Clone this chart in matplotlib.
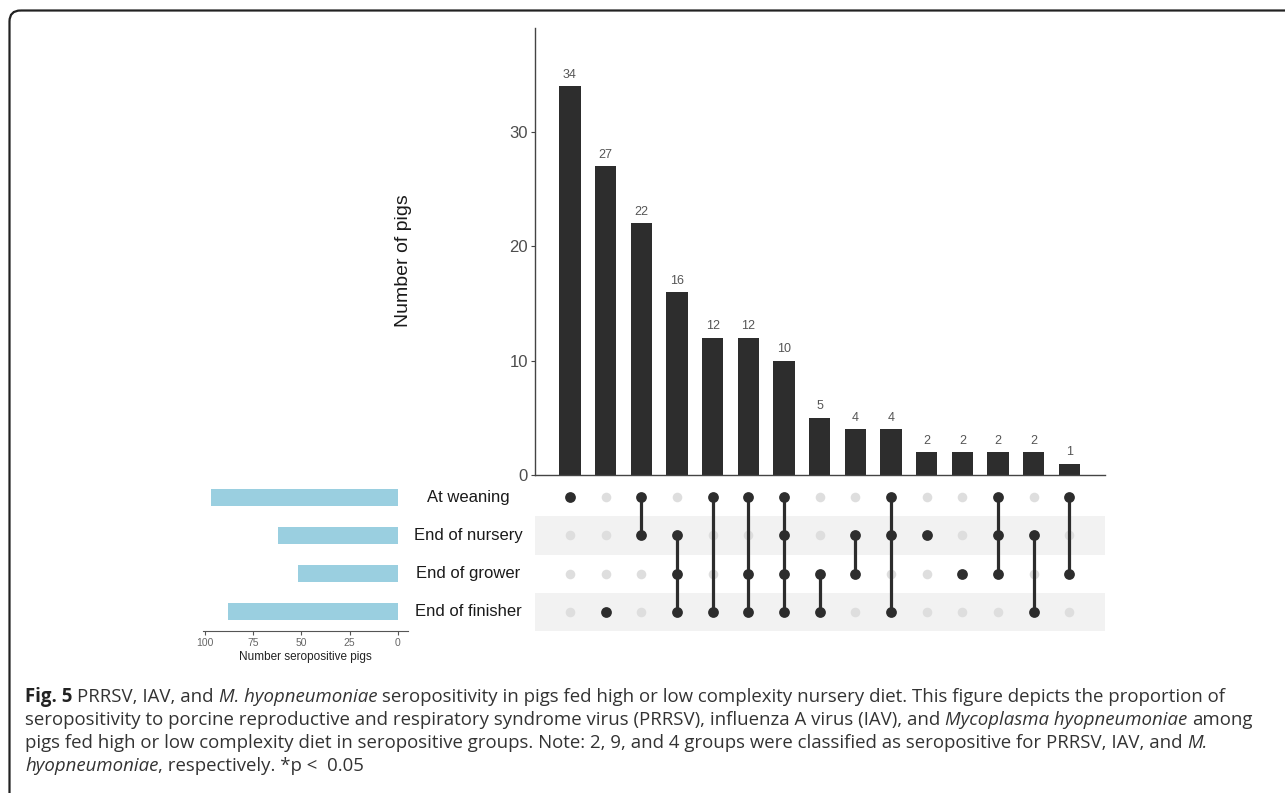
import matplotlib
matplotlib.use('Agg')
import matplotlib.pyplot as plt
import matplotlib.transforms as mtrans
from matplotlib.patches import FancyBboxPatch

plt.rcParams['font.family'] = ['Liberation Sans', 'DejaVu Sans']

# data
sets = ['At weaning', 'End of nursery', 'End of grower', 'End of finisher']
set_sizes = [97, 62, 52, 88]
counts = [34, 27, 22, 16, 12, 12, 10, 5, 4, 4, 2, 2, 2, 2, 1]
# members of each intersection (index into sets)
members = [[0], [3], [0, 1], [1, 2, 3], [0, 3], [0, 2, 3], [0, 1, 2, 3],
           [2, 3], [1, 2], [0, 1, 3], [1], [2], [0, 1, 2], [1, 3], [0, 2]]
count_ticks = [0, 10, 20, 30]
size_ticks = [100, 75, 50, 25, 0]

caption = [
    [("Fig. 5", 'bold', 'normal'), (" PRRSV, IAV, and ", 'normal', 'normal'),
     ("M. hyopneumoniae", 'normal', 'italic'),
     (" seropositivity in pigs fed high or low complexity nursery diet. This figure depicts the proportion of", 'normal', 'normal')],
    [("seropositivity to porcine reproductive and respiratory syndrome virus (PRRSV), influenza A virus (IAV), and ", 'normal', 'normal'),
     ("Mycoplasma hyopneumoniae", 'normal', 'italic'), (" among", 'normal', 'normal')],
    [("pigs fed high or low complexity diet in seropositive groups. Note: 2, 9, and 4 groups were classified as seropositive for PRRSV, IAV, and ", 'normal', 'normal'),
     ("M.", 'normal', 'italic')],
    [("hyopneumoniae", 'normal', 'italic'), (", respectively. *p <  0.05", 'normal', 'normal')],
]

W, H = 1285, 793
fig = plt.figure(figsize=(W / 100, H / 100), dpi=100)


def box(x0, y0, x1, y1):
    return [x0 / W, 1 - y1 / H, (x1 - x0) / W, (y1 - y0) / H]


# full figure axes in pixel units, for frame and caption
axf = fig.add_axes([0, 0, 1, 1], zorder=-5)
axf.set_xlim(0, W)
axf.set_ylim(H, 0)
axf.axis('off')
axf.add_patch(FancyBboxPatch((9.5, 10.5), 1320, 800, boxstyle="round,pad=0,rounding_size=11",
                             fill=False, lw=1.6, ec='#222222'))

dark = '#2d2d2d'
ncol = len(counts)
xs = list(range(ncol))
rows_y = [len(sets) - 1 - r for r in range(len(sets))]

# intersection size bars
axt = fig.add_axes(box(535, 28, 1105, 475))
axt.bar(xs, counts, width=0.6, color=dark)
for xi, c in zip(xs, counts):
    axt.annotate(str(c), (xi, c), xytext=(0, 4), textcoords='offset points',
                 ha='center', va='bottom', fontsize=9, color='#555555')
axt.set_xlim(-0.98, 15.0)
axt.set_ylim(0, 39.1)
for s in ['top', 'right']:
    axt.spines[s].set_visible(False)
for s in ['left', 'bottom']:
    axt.spines[s].set_color('#444444')
    axt.spines[s].set_linewidth(1.0)
axt.set_xticks([])
axt.set_yticks(count_ticks)
axt.tick_params(axis='y', labelsize=12, labelcolor='#4d4d4d', color='#444444', length=3, pad=2)
fig.text(403 / W, 1 - 261 / H, 'Number of pigs', rotation=90, ha='center', va='center',
         fontsize=14, color='#1a1a1a')

# matrix
axm = fig.add_axes(box(535, 478, 1105, 631))
axm.set_xlim(-0.98, 15.0)
axm.set_ylim(-0.5, 3.5)
axm.axis('off')
for r in [1, 3]:
    axm.axhspan(rows_y[r] - 0.5, rows_y[r] + 0.5, color='#f2f2f2', lw=0, zorder=0)
for i in xs:
    axm.scatter([i] * len(sets), rows_y, s=48, color='#dedede', lw=0, zorder=1)
    ys = [rows_y[r] for r in members[i]]
    if len(ys) > 1:
        axm.plot([i, i], [min(ys), max(ys)], color=dark, lw=2.3, zorder=2)
    axm.scatter([i] * len(ys), ys, s=60, color=dark, lw=0, zorder=3)

trans = mtrans.blended_transform_factory(fig.transFigure, axm.transData)
for r, name in enumerate(sets):
    axm.text(468 / W, rows_y[r], name, transform=trans, ha='center', va='center',
             fontsize=12, color='#1a1a1a', clip_on=False)

# set size bars
axl = fig.add_axes(box(203, 478, 408, 631))
axl.barh(rows_y, set_sizes, height=0.45, color='#9acfe0')
axl.set_xlim(101, -5.2)
axl.set_ylim(-0.5, 3.5)
for s in ['top', 'right', 'left']:
    axl.spines[s].set_visible(False)
axl.spines['bottom'].set_color('#555555')
axl.set_yticks([])
axl.set_xticks(size_ticks)
axl.tick_params(axis='x', labelsize=7.5, labelcolor='#666666', color='#555555', length=3, pad=2)
axl.set_xlabel('Number seropositive pigs', fontsize=8.5, color='#222222', labelpad=2)

# caption
renderer = fig.canvas.get_renderer()
cap_font = ['Open Sans', 'DejaVu Sans']


def text_w(txt, size, weight, style):
    def w(s):
        t = axf.text(0, 0, s, fontsize=size, fontweight=weight, fontstyle=style, family=cap_font)
        v = t.get_window_extent(renderer).width
        t.remove()
        return v
    return w('|' + txt + '|') - w('||')


base = 12
line_w = sum(text_w(t, base, wt, st) for t, wt, st in caption[2])
cap_size = base * (1203 - 25) / line_w

baselines = [702, 725, 748, 771]
for parts, yb in zip(caption, baselines):
    x = 25
    for txt, wt, st in parts:
        lead = len(txt) - len(txt.lstrip(' '))
        sp = text_w(' ', cap_size, wt, st) * lead
        axf.text(x + sp, yb, txt.strip(' '), fontsize=cap_size, fontweight=wt, fontstyle=st,
                 family=cap_font, color='#222222' if wt == 'bold' else '#333333', va='baseline')
        x += text_w(txt, cap_size, wt, st)

fig.savefig('out.png', dpi=100)
